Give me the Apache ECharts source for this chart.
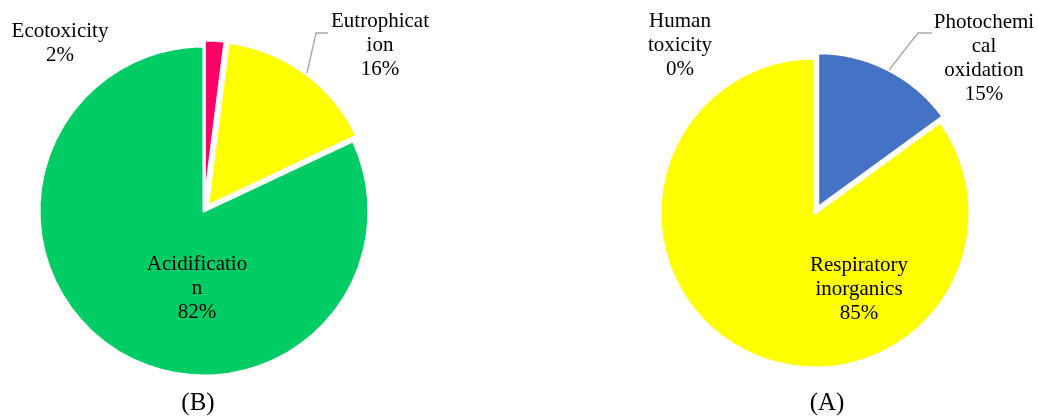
<!DOCTYPE html>
<html>
<head>
<meta charset="utf-8">
<script src="https://cdn.jsdelivr.net/npm/echarts@6/dist/echarts.min.js"></script>
<style>
html,body{margin:0;padding:0;background:#fff;}
#c{width:1038px;height:417px;}
</style>
</head>
<body>
<div id="c"></div>
<script>
// ---- data ----
const leftNames = ['Ecotoxicity', 'Eutrophication', 'Acidification'];
const leftValues = [2, 16, 82];
const leftLabels = ['Ecotoxicity', 'Eutrophicat\nion', 'Acidificatio\nn'];
const leftColors = ['#FF0066', '#FFFF00', '#00CC66'];
const leftTitle = '(B)';

const rightNames = ['Photochemical oxidation', 'Respiratory inorganics', 'Human toxicity'];
const rightValues = [15, 85, 0];
const rightLabels = ['Photochemi\ncal\noxidation', 'Respiratory\ninorganics', 'Human\ntoxicity'];
const rightColors = ['#4472C4', '#FFFF00', '#A5A5A5'];
const rightTitle = '(A)';

// ---- layout (label anchors, leader lines) ----
const labelPos = [
  [[60, 43], [380, 45], [197, 288]],
  [[984, 58], [859, 289], [680, 45]]
];
const leaderLines = [
  [null, [[307, 73], [316, 33], [328, 33]], null],
  [[[889, 70], [918, 33], [932, 33]], null, null]
];
const explode = [[true, true, false], [true, false, false]];

const FONT = '"Liberation Serif", "Times New Roman", serif';

// sectors (with exploded slices), no labels
function sectorSeries(si, names, values, colors, center, radius) {
  return {
    type: 'pie',
    center: center,
    radius: radius,
    startAngle: 90,
    clockwise: true,
    selectedMode: 'multiple',
    selectedOffset: 6,
    animation: false,
    silent: true,
    stillShowZeroSum: true,
    itemStyle: { borderColor: '#fff', borderWidth: 3 },
    label: { show: false },
    labelLine: { show: false },
    data: names.map((n, i) => ({
      name: n, value: values[i], selected: explode[si][i],
      itemStyle: { color: colors[i] }
    }))
  };
}

// labels only (transparent sectors)
function labelSeries(si, names, values, labels, center, radius) {
  return {
    type: 'pie',
    center: center,
    radius: radius,
    startAngle: 90,
    clockwise: true,
    animation: false,
    silent: true,
    stillShowZeroSum: true,
    z: 5,
    itemStyle: { color: 'rgba(0,0,0,0)', borderWidth: 0 },
    label: {
      show: true,
      position: 'outside',
      color: '#000',
      fontFamily: FONT,
      fontSize: 21,
      lineHeight: 24,
      align: 'center',
      overflow: 'none'
    },
    labelLine: { show: true, lineStyle: { color: '#A6A6A6', width: 1.3 } },
    labelLayout: function (p) {
      const pos = labelPos[si][p.dataIndex];
      const o = { x: pos[0], y: pos[1], align: 'center', verticalAlign: 'middle' };
      const ll = leaderLines[si][p.dataIndex];
      if (ll) o.labelLinePoints = ll;
      return o;
    },
    data: names.map((n, i) => ({
      name: n, value: values[i],
      labelLine: { show: !!leaderLines[si][i] },
      label: { formatter: (p) => labels[i] + '\n' + Math.round(p.percent) + '%' }
    }))
  };
}

const chart = echarts.init(document.getElementById('c'), null, { renderer: 'canvas' });
chart.setOption({
  backgroundColor: '#fff',
  animation: false,
  graphic: [
    { type: 'text', x: 198, y: 403, style: { text: leftTitle, font: '25px ' + FONT, fill: '#000', textAlign: 'center', textVerticalAlign: 'middle' } },
    { type: 'text', x: 827, y: 403, style: { text: rightTitle, font: '25px ' + FONT, fill: '#000', textAlign: 'center', textVerticalAlign: 'middle' } }
  ],
  series: [
    sectorSeries(0, leftNames, leftValues, leftColors, [204, 211], 165),
    sectorSeries(1, rightNames, rightValues, rightColors, [815, 213], 155),
    labelSeries(0, leftNames, leftValues, leftLabels, [204, 211], 165),
    labelSeries(1, rightNames, rightValues, rightLabels, [815, 213], 155)
  ]
});
</script>
</body>
</html>
